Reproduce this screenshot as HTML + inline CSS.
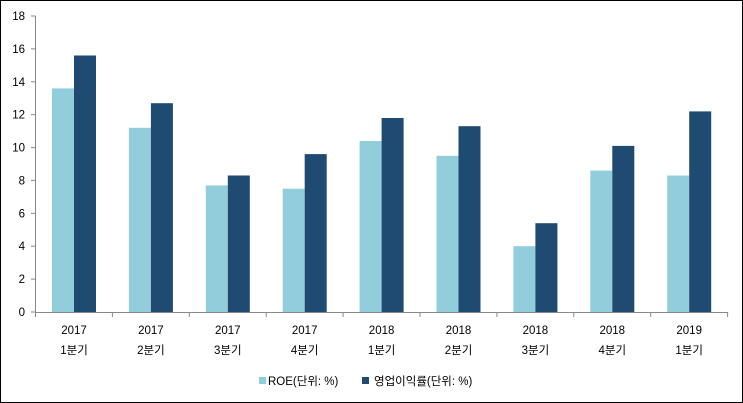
<!DOCTYPE html>
<html><head><meta charset="utf-8"><style>body{margin:0;background:#fff}svg{display:block}text{font-family:"Liberation Sans","Noto Sans CJK KR",sans-serif;font-size:11.5px;fill:#000}</style></head>
<body>
<svg width="743" height="403" viewBox="0 0 743 403" xmlns="http://www.w3.org/2000/svg">
<rect x="0.5" y="0.5" width="742" height="402" fill="#fff" stroke="#000"/>
<g fill="#92CDDC">
<rect x="52" y="88.4" width="22" height="223.6"/>
<rect x="128.9" y="127.8" width="22" height="184.2"/>
<rect x="205.8" y="185.4" width="22" height="126.6"/>
<rect x="282.7" y="188.7" width="22" height="123.3"/>
<rect x="359.6" y="141" width="22" height="171"/>
<rect x="436.5" y="155.8" width="22" height="156.2"/>
<rect x="513.4" y="246.2" width="22" height="65.8"/>
<rect x="590.3" y="170.6" width="22" height="141.4"/>
<rect x="667.2" y="175.5" width="22" height="136.5"/>
</g>
<g fill="#1F4A72">
<rect x="74" y="55.5" width="22" height="256.5"/>
<rect x="150.9" y="103.2" width="22" height="208.8"/>
<rect x="227.8" y="175.5" width="22" height="136.5"/>
<rect x="304.7" y="154.1" width="22" height="157.9"/>
<rect x="381.6" y="118" width="22" height="194"/>
<rect x="458.5" y="126.2" width="22" height="185.8"/>
<rect x="535.4" y="223.2" width="22" height="88.8"/>
<rect x="612.3" y="145.9" width="22" height="166.1"/>
<rect x="689.2" y="111.4" width="22" height="200.6"/>
</g>
<g stroke="#888">
<line x1="35.5" y1="16" x2="35.5" y2="312"/>
<line x1="35.5" y1="312.5" x2="728" y2="312.5"/>
<line x1="35.5" y1="312" x2="35.5" y2="317"/><line x1="112.4" y1="312" x2="112.4" y2="317"/><line x1="189.3" y1="312" x2="189.3" y2="317"/><line x1="266.2" y1="312" x2="266.2" y2="317"/><line x1="343.1" y1="312" x2="343.1" y2="317"/><line x1="420" y1="312" x2="420" y2="317"/><line x1="496.9" y1="312" x2="496.9" y2="317"/><line x1="573.8" y1="312" x2="573.8" y2="317"/><line x1="650.7" y1="312" x2="650.7" y2="317"/><line x1="727.6" y1="312" x2="727.6" y2="317"/>
<line x1="31" y1="312" x2="35.5" y2="312"/><line x1="31" y1="279.1" x2="35.5" y2="279.1"/><line x1="31" y1="246.2" x2="35.5" y2="246.2"/><line x1="31" y1="213.3" x2="35.5" y2="213.3"/><line x1="31" y1="180.4" x2="35.5" y2="180.4"/><line x1="31" y1="147.6" x2="35.5" y2="147.6"/><line x1="31" y1="114.7" x2="35.5" y2="114.7"/><line x1="31" y1="81.8" x2="35.5" y2="81.8"/><line x1="31" y1="48.9" x2="35.5" y2="48.9"/><line x1="31" y1="16" x2="35.5" y2="16"/>
</g>
<g text-anchor="end">
<text x="25" y="316">0</text><text x="25" y="283.1">2</text><text x="25" y="250.2">4</text><text x="25" y="217.3">6</text><text x="25" y="184.4">8</text><text x="25" y="151.6">10</text><text x="25" y="118.7">12</text><text x="25" y="85.8">14</text><text x="25" y="52.9">16</text><text x="25" y="20">18</text>
</g>
<g text-anchor="middle">
<text x="74" y="334">2017</text><text x="74" y="354">1분기</text>
<text x="150.9" y="334">2017</text><text x="150.9" y="354">2분기</text>
<text x="227.8" y="334">2017</text><text x="227.8" y="354">3분기</text>
<text x="304.7" y="334">2017</text><text x="304.7" y="354">4분기</text>
<text x="381.6" y="334">2018</text><text x="381.6" y="354">1분기</text>
<text x="458.5" y="334">2018</text><text x="458.5" y="354">2분기</text>
<text x="535.4" y="334">2018</text><text x="535.4" y="354">3분기</text>
<text x="612.3" y="334">2018</text><text x="612.3" y="354">4분기</text>
<text x="689.2" y="334">2019</text><text x="689.2" y="354">1분기</text>
</g>
<rect x="259" y="377" width="7" height="7" fill="#92CDDC"/>
<text x="268" y="385">ROE(단위: %)</text>
<rect x="362" y="377" width="7" height="7" fill="#1F4A72"/>
<text x="374" y="385">영업이익률(단위: %)</text>
</svg>
</body></html>
